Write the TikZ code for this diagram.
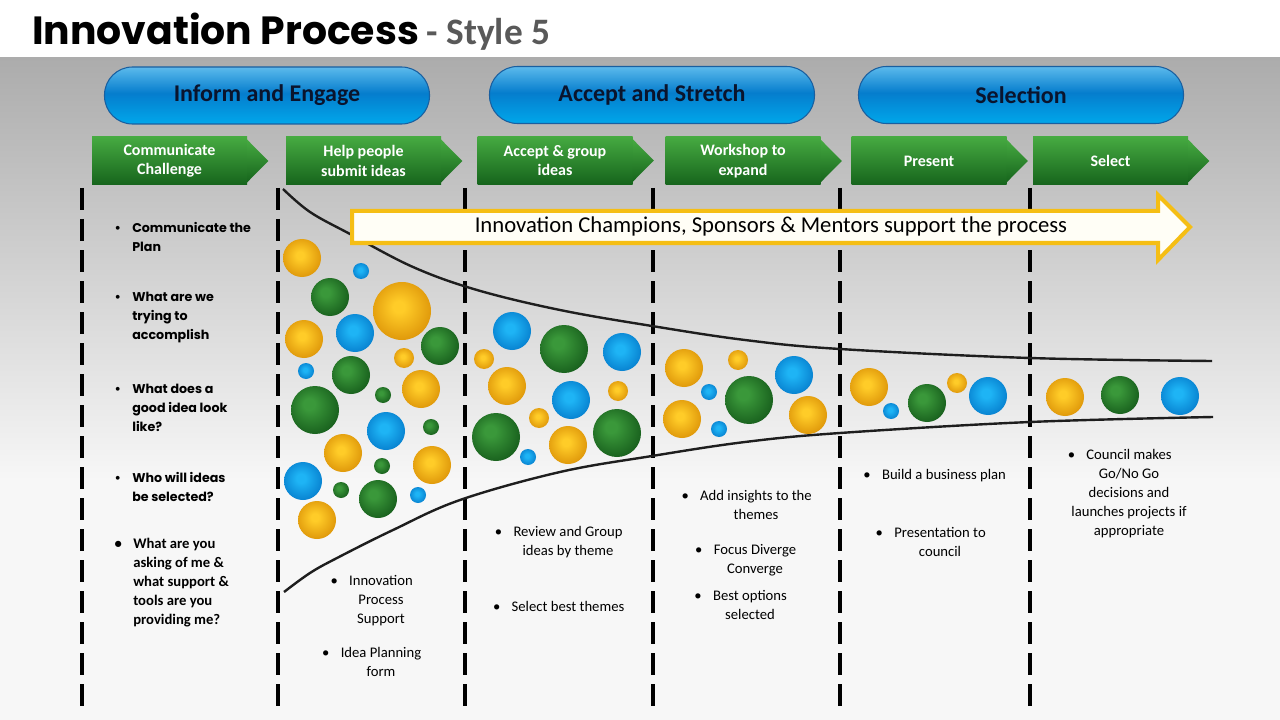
\documentclass[tikz,border=0pt]{standalone}
\usepackage{fontspec}
\setmainfont{Carlito}
\newfontfamily\gothic{Poppins}
\usetikzlibrary{calc}

\definecolor{bgTop}{RGB}{172,172,172}
\definecolor{bgBot}{RGB}{247,247,247}
\definecolor{subGray}{RGB}{89,89,89}
\definecolor{pillEdge}{RGB}{25,95,160}
\definecolor{pillText}{RGB}{10,20,45}
\definecolor{stepTop}{RGB}{70,170,65}
\definecolor{stepBot}{RGB}{22,100,28}
\definecolor{funnelInk}{RGB}{30,30,30}
\definecolor{bannerEdge}{RGB}{245,190,20}
\definecolor{bannerFill}{RGB}{255,254,246}
\definecolor{orHi}{RGB}{255,204,40}
\definecolor{orLo}{RGB}{212,134,0}
\definecolor{grHi}{RGB}{58,152,58}
\definecolor{grLo}{RGB}{16,82,22}
\definecolor{blHi}{RGB}{30,180,245}
\definecolor{blLo}{RGB}{0,112,195}

\pgfdeclareradialshading{or}{\pgfpoint{-3bp}{4bp}}{color(0bp)=(orHi); color(5bp)=(orHi); color(35bp)=(orLo); color(50bp)=(orLo)}
\pgfdeclareradialshading{gr}{\pgfpoint{-7bp}{7bp}}{color(0bp)=(grHi); color(6bp)=(grHi); color(35bp)=(grLo); color(50bp)=(grLo)}
\pgfdeclareradialshading{bl}{\pgfpoint{-3bp}{4bp}}{color(0bp)=(blHi); color(6bp)=(blHi); color(35bp)=(blLo); color(50bp)=(blLo)}
\pgfdeclareverticalshading{pillshade}{100bp}{color(0bp)=(rgb,255:red,0;green,150;blue,220); color(22bp)=(rgb,255:red,0;green,172;blue,238); color(52bp)=(rgb,255:red,5;green,125;blue,205); color(72bp)=(rgb,255:red,80;green,178;blue,232); color(100bp)=(rgb,255:red,235;green,248;blue,254)}

\newcommand{\hangbullet}{\llap{\textbullet\hspace{8.5pt}}}

\tikzset{
    pill/.style={rounded corners=21pt, minimum width=325*0.75pt, minimum height=57*0.75pt,
        draw=pillEdge, line width=0.8pt, shading=pillshade,
        text=pillText, font=\bfseries\fontsize{18}{20}\selectfont},
    stepbox/.style={minimum width=155*0.75pt, minimum height=48*0.75pt, inner sep=0pt,
        top color=stepTop, bottom color=stepBot, text=white, align=center,
        font=\bfseries\fontsize{12}{14.5}\selectfont},
    steptip/.style={top color=stepTop, bottom color=stepBot},
    divider/.style={line width=2.3pt, dash pattern=on 16.5pt off 6.75pt},
    funnel/.style={line width=1.8pt, draw=funnelInk},
    banner/.style={draw=bannerEdge, line width=3pt, fill=bannerFill, line join=miter},
    ask/.style={anchor=north west, align=left, inner sep=0pt, font=\gothic\bfseries\fontsize{9.5}{14.25}\selectfont},
    note/.style={anchor=north, align=center, inner sep=0pt, font=\fontsize{11}{14.25}\selectfont}
}

\begin{document}
\begin{tikzpicture}[x=0.75pt, y=-0.75pt]
    \useasboundingbox (0,0) rectangle (1280,720);
    \fill[white] (0,0) rectangle (1280,58);
    \shade[top color=bgTop, bottom color=bgBot] (0,58) rectangle (1280,480);
    \fill[bgBot] (0,480) rectangle (1280,720);

    \node[anchor=base west, inner sep=0pt, font=\gothic\bfseries\fontsize{29.5}{34}\selectfont] (title) at (32,45) {Innovation Process};
    \node[anchor=base west, inner sep=0pt, text=subGray, font=\bfseries\fontsize{28}{32}\selectfont] (subtitle) at ($(title.base east)+(7,0)$) {- Style 5};

    \node[pill] (inform) at (267,95.5) {Inform and Engage};
    \node[pill] (accept) at (652,95) {Accept and Stretch};
    \node[pill] (selection) at (1021,95) {Selection};

    \node[stepbox] (communicate) at (169.5,161) {Communicate\\Challenge};
    \node[stepbox] (help) at (363.5,161) {Help people\\submit ideas};
    \node[stepbox] (group) at (555,160.5) {Accept \& group\\ideas};
    \node[stepbox] (workshop) at (743,161) {Workshop to\\expand};
    \node[stepbox] (present) at (929,161) {Present};
    \node[stepbox] (select) at (1110.5,161) {Select};
    \foreach \s in {communicate,help,group,workshop,present,select}
        \shade[steptip] ($(\s.north east)+(0,3)$) -- ($(\s.east)+(21,0)$) -- ($(\s.south east)+(0,-3)$) -- cycle;

    \foreach \x in {82,278,465,653,840,1030}
        \draw[divider] (\x,188) -- (\x,708);

    \draw[funnel] plot[smooth, tension=0.6] coordinates {(283,189) (310,212) (350,234) (413,267) (477,290) (560,310) (652,326) (745,340) (840,349) (1030,358) (1212,361)};
    \draw[funnel] plot[smooth, tension=0.6] coordinates {(284,592) (310,573) (337,558) (393,530) (460,500) (560,472) (652,456) (745,442) (840,433) (1030,422) (1213,417)};

    \draw[banner] (352,211) -- (1158,211) -- (1158,195) -- (1190,227) -- (1158,260) -- (1158,243) -- (352,243) -- cycle;
    \node[font=\fontsize{17}{20}\selectfont] (support) at (771,226) {Innovation Champions, Sponsors \& Mentors support the process};

    \foreach \x/\y/\r/\c in {302/258/19/or, 361/271/8/bl, 330/297/19/gr, 402/311/29/or, 304/339/19/or,
        355/333/19/bl, 440/346/19/gr, 404/358/10/or, 306/371/8/bl, 351/375/19/gr, 383/395/8/gr,
        421/389/19/or, 315/410/24/gr, 386/431/19/bl, 431/427/8/gr, 343/453/19/or, 382/466/8/gr,
        432/465/19/or, 303/481/19/bl, 341/490/8/gr, 378/499/19/gr, 418/495/8/bl, 317/520/19/or,
        512/331/19/bl, 564/349/24/gr, 622/352/19/bl, 484/359/10/or, 507/386/19/or, 571/400/19/bl,
        618/391/10/or, 539/418/10/or, 496/437/24/gr, 568/445/19/or, 617/433/24/gr, 528/457/8/bl,
        684/368/19/or, 738/360/10/or, 794/375/19/bl, 709/392/8/bl, 749/400/24/gr, 682/419/19/or,
        808/415/19/or, 719/429/8/bl,
        869/387/19/or, 891/411/8/bl, 927/403/19/gr, 957/383/10/or, 988/396/19/bl,
        1065/397/19/or, 1120/395/19/gr, 1180/396/19/bl}
        \shade[shading=\c] (\x,\y) circle (\r);

    \node[ask] (plan) at (132,222) {\hangbullet Communicate the\\Plan};
    \node[ask] (goal) at (132,292) {\hangbullet What are we\\trying to\\accomplish};
    \node[ask] (goodidea) at (132,384) {\hangbullet What does a\\good idea look\\like?};
    \node[ask] (who) at (132,472) {\hangbullet Who will ideas\\be selected?};
    \node[ask, font=\bfseries\fontsize{11}{14.25}\selectfont] (asking) at (133,538) {\hangbullet What are you\\asking of me \&\\what support \&\\tools are you\\providing me?};

    \node[note] (ipsupport) at (381,575) {\hangbullet Innovation\\Process\\Support};
    \node[note] (planform) at (381,647) {\hangbullet Idea Planning\\form};
    \node[note] (review) at (568,526) {\hangbullet Review and Group\\ideas by theme};
    \node[note] (bestthemes) at (568,601) {\hangbullet Select best themes};
    \node[note] (insights) at (756,490) {\hangbullet Add insights to the\\themes};
    \node[note] (diverge) at (755,544) {\hangbullet Focus Diverge\\Converge};
    \node[note] (bestoptions) at (750,590) {\hangbullet Best options\\selected};
    \node[note] (bizplan) at (944,469) {\hangbullet Build a business plan};
    \node[note] (council) at (940,527) {\hangbullet Presentation to\\council};
    \node[note] (gonogo) at (1129,449) {\hangbullet Council makes\\Go/No Go\\decisions and\\launches projects if\\appropriate};
\end{tikzpicture}
\end{document}
